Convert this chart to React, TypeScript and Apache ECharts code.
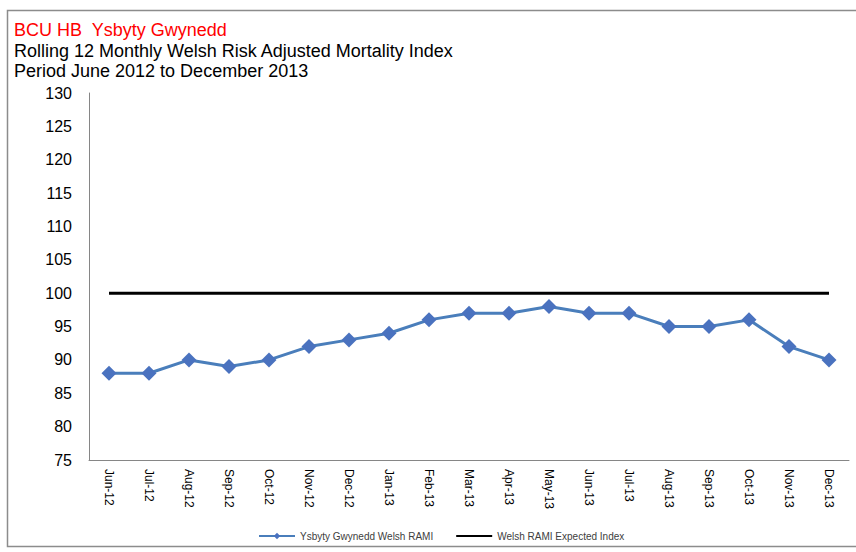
import React, { useEffect, useRef } from "react";
import * as echarts from "echarts";

const months = [
  "Jun-12", "Jul-12", "Aug-12", "Sep-12", "Oct-12", "Nov-12", "Dec-12",
  "Jan-13", "Feb-13", "Mar-13", "Apr-13", "May-13", "Jun-13", "Jul-13",
  "Aug-13", "Sep-13", "Oct-13", "Nov-13", "Dec-13",
];
const gwyneddRami = [88, 88, 90, 89, 90, 92, 93, 94, 96, 97, 97, 98, 97, 97, 95, 95, 96, 92, 90];
const expectedIndex = [100, 100, 100, 100, 100, 100, 100, 100, 100, 100, 100, 100, 100, 100, 100, 100, 100, 100, 100];
const titleLines = [
  "BCU HB  Ysbyty Gwynedd",
  "Rolling 12 Monthly Welsh Risk Adjusted Mortality Index",
  "Period June 2012 to December 2013",
];

export default function App() {
  const ref = useRef<HTMLDivElement>(null);

  useEffect(() => {
    if (!ref.current) return;
    const chart = echarts.init(ref.current, null, { renderer: "svg" });
    const font = "'Liberation Sans', Arial, sans-serif";
    chart.setOption({
      animation: false,
      backgroundColor: "#ffffff",
      textStyle: { fontFamily: font },
      graphic: [
        {
          type: "rect",
          shape: { x: 7.5, y: 10.5, width: 860, height: 536 },
          style: { fill: "none", stroke: "#8c8c8c", lineWidth: 1.5 },
          silent: true,
        },
        {
          type: "text",
          left: 14,
          top: 21,
          style: { text: titleLines[0], fill: "#ff0000", font: `18px ${font}` },
        },
        {
          type: "text",
          left: 14,
          top: 42,
          style: { text: titleLines[1], fill: "#000000", font: `18px ${font}` },
        },
        {
          type: "text",
          left: 14,
          top: 62,
          style: { text: titleLines[2], fill: "#000000", font: `18px ${font}` },
        },
      ],
      legend: {
        left: 258,
        top: 531,
        padding: 0,
        itemWidth: 36,
        itemHeight: 8,
        itemGap: 22,
        textStyle: { fontSize: 10, color: "#404040", fontFamily: font },
        data: [
          { name: "Ysbyty Gwynedd Welsh RAMI" },
          // plain black line in the key, no marker
          { name: "Welsh RAMI Expected Index", itemStyle: { opacity: 0 } },
        ],
      },
      grid: { left: 89, right: 7, top: 93, bottom: 92 },
      xAxis: {
        type: "category",
        data: months,
        boundaryGap: true,
        axisLine: { lineStyle: { color: "#868686", width: 1 } },
        axisTick: { show: false },
        axisLabel: {
          rotate: -90,
          interval: 0,
          margin: 9,
          color: "#000000",
          fontSize: 12,
          fontFamily: font,
        },
      },
      yAxis: {
        type: "value",
        min: 75,
        max: 130,
        interval: 5,
        axisLine: { show: true, lineStyle: { color: "#868686", width: 1 } },
        axisTick: { show: false },
        splitLine: { show: false },
        axisLabel: { color: "#000000", fontSize: 16, margin: 17, fontFamily: font },
      },
      series: [
        {
          name: "Ysbyty Gwynedd Welsh RAMI",
          type: "line",
          data: gwyneddRami,
          symbol: "diamond",
          symbolSize: 15,
          lineStyle: { color: "#4a7ebb", width: 3 },
          itemStyle: { color: "#4a72bf" },
          z: 3,
        },
        {
          name: "Welsh RAMI Expected Index",
          type: "line",
          data: expectedIndex,
          symbol: "none",
          lineStyle: { color: "#000000", width: 3 },
          itemStyle: { color: "#000000" },
          z: 2,
        },
      ],
    });
    return () => chart.dispose();
  }, []);

  return (
    <div
      ref={ref}
      style={{ position: "fixed", left: 0, top: 0, width: 856, height: 552 }}
    />
  );
}
